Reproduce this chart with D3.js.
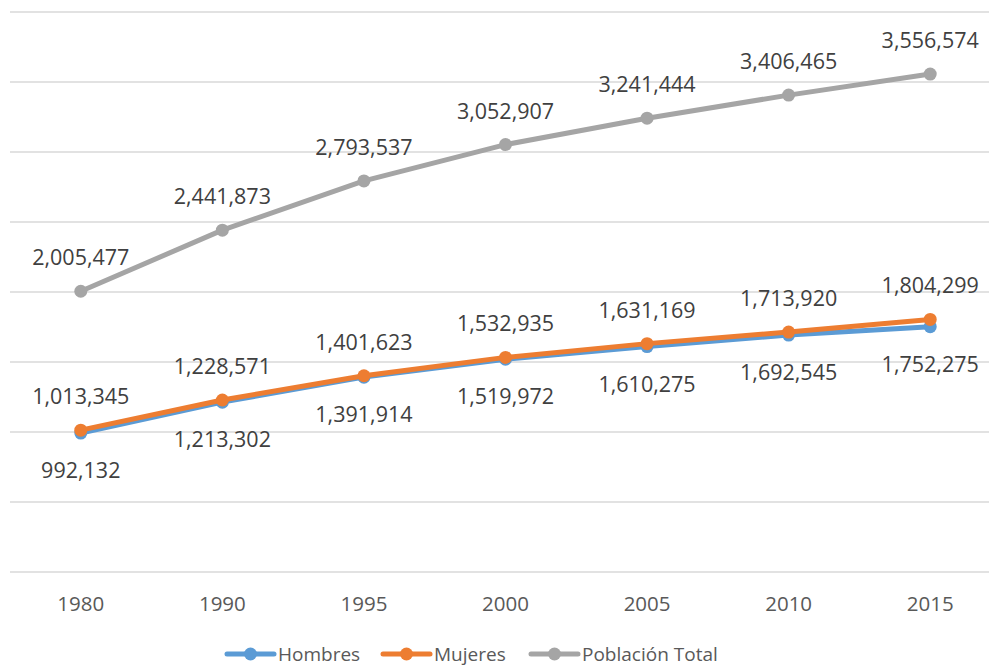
<!DOCTYPE html>
<html>
<head>
<meta charset="utf-8">
<script src="https://cdn.jsdelivr.net/npm/d3@7"></script>
<style>
  body { margin: 0; background: #fff; }
  text { font-family: "Open Sans", sans-serif; }
</style>
</head>
<body>
<svg id="chart"></svg>
<script>
var years = ["1980", "1990", "1995", "2000", "2005", "2010", "2015"];
var hombres = [992132, 1213302, 1391914, 1519972, 1610275, 1692545, 1752275];
var mujeres = [1013345, 1228571, 1401623, 1532935, 1631169, 1713920, 1804299];
var total = [2005477, 2441873, 2793537, 3052907, 3241444, 3406465, 3556574];
var yTicks = [0, 500000, 1000000, 1500000, 2000000, 2500000, 3000000, 3500000, 4000000];

var svgWidth = 989;
var svgHeight = 667;
var svg = d3.select("#chart")
    .attr("width", svgWidth)
    .attr("height", svgHeight);

var x = d3.scaleBand().domain(years).range([10, 1001]).padding(0);
var y = d3.scaleLinear().domain([0, 4000000]).range([572, 12]);
var cx = function(d, i) { return x(years[i]) + x.bandwidth() / 2; };
var fmt = d3.format(",");

// gridlines
svg.selectAll(".grid")
    .data(yTicks)
    .enter()
    .append("line")
    .attr("x1", 10)
    .attr("x2", 1001)
    .attr("y1", function(d) { return y(d); })
    .attr("y2", function(d) { return y(d); })
    .attr("stroke", "#d9d9d9")
    .attr("stroke-width", 1.5);

// x axis labels
var xAxis = svg.append("g")
    .attr("transform", "translate(0,572)")
    .call(d3.axisBottom(x).tickSize(0).tickPadding(24));
xAxis.select(".domain").remove();
xAxis.selectAll("text")
    .style("font-family", "Open Sans, sans-serif")
    .attr("font-size", 20.5)
    .attr("fill", "#595959");

var series = [
  { name: "Hombres", values: hombres, color: "#5B9BD5", dy: 45 },
  { name: "Mujeres", values: mujeres, color: "#ED7D31", dy: -26 },
  { name: "Población Total", values: total, color: "#A5A5A5", dy: -26 }
];

var line = d3.line()
    .x(function(d, i) { return cx(d, i); })
    .y(function(d) { return y(d); });

series.forEach(function(s) {
  svg.append("path")
      .datum(s.values)
      .attr("d", line)
      .attr("fill", "none")
      .attr("stroke", s.color)
      .attr("stroke-width", 5)
      .attr("stroke-linejoin", "round")
      .attr("stroke-linecap", "round");
  svg.selectAll(null)
      .data(s.values)
      .enter()
      .append("circle")
      .attr("cx", cx)
      .attr("cy", function(d) { return y(d); })
      .attr("r", 6.5)
      .attr("fill", s.color);
});

series.forEach(function(s) {
  svg.selectAll(null)
      .data(s.values)
      .enter()
      .append("text")
      .attr("x", cx)
      .attr("y", function(d) { return y(d) + s.dy; })
      .attr("text-anchor", "middle")
      .attr("font-size", 21.5)
      .attr("fill", "#404040")
      .text(function(d) { return fmt(d); });
});

// legend
var legendX = [227, 383, 531];
var legend = svg.selectAll(".legend")
    .data(series)
    .enter()
    .append("g")
    .attr("transform", function(d, i) { return "translate(" + legendX[i] + ",654)"; });
legend.append("line")
    .attr("x1", 0).attr("x2", 47)
    .attr("stroke", function(d) { return d.color; })
    .attr("stroke-width", 5)
    .attr("stroke-linecap", "round");
legend.append("circle")
    .attr("cx", 23.5)
    .attr("r", 6.5)
    .attr("fill", function(d) { return d.color; });
legend.append("text")
    .attr("x", 51)
    .attr("y", 7)
    .attr("font-size", 19)
    .attr("fill", "#595959")
    .text(function(d) { return d.name; });
</script>
</body>
</html>
